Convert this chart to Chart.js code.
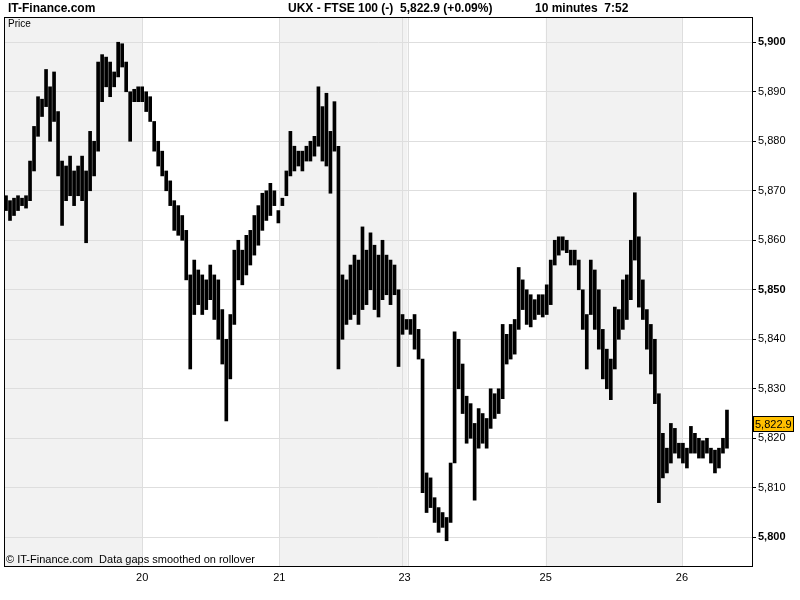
<!DOCTYPE html>
<html>
<head>
<meta charset="utf-8">
<script src="https://cdn.jsdelivr.net/npm/chart.js@4/dist/chart.umd.min.js"></script>
<style>
  html, body { margin: 0; padding: 0; background: #fff; }
</style>
</head>
<body>
<canvas id="priceChart" width="800" height="600"></canvas>
<script>
// 10 minute bars, FTSE 100 (low / high of each bar)
var barLows = [
    5866, 5864, 5865, 5866, 5867, 5866.5, 5868, 5874, 5881, 5885,
    5887, 5880, 5884, 5873, 5863, 5868, 5869, 5867, 5869, 5868,
    5859.5, 5870, 5873, 5878, 5888, 5891, 5889, 5891, 5893, 5895,
    5890, 5880, 5888, 5888,
    5888, 5886, 5884, 5878, 5875, 5873, 5870, 5867, 5862, 5861,
    5860, 5852, 5834, 5845, 5847, 5845, 5846, 5848, 5844, 5840,
    5835, 5823.5, 5832, 5843, 5852, 5851, 5853, 5855, 5857, 5859,
    5862, 5864, 5865, 5867,
    5863.5, 5867, 5869, 5873, 5874, 5875, 5874, 5876, 5876, 5877,
    5879, 5876, 5875, 5869.5, 5878, 5834, 5840, 5843, 5844, 5845,
    5843, 5846, 5847, 5850, 5846, 5844.5, 5848, 5849, 5847, 5849,
    5834.5,
    5841, 5842, 5841, 5838, 5836, 5809, 5805, 5806, 5803, 5801,
    5802, 5799.3, 5803, 5815, 5830, 5825, 5819, 5820, 5807.5, 5818,
    5819, 5818, 5822, 5824, 5825, 5828, 5835, 5836, 5837, 5842,
    5846, 5843, 5842.5, 5844, 5845, 5844.5,
    5845, 5847, 5855, 5857, 5858, 5857.5, 5855, 5855, 5850, 5842,
    5834, 5845, 5842, 5838, 5832, 5830, 5827.8, 5834, 5840, 5842,
    5844, 5848, 5856, 5846.5, 5844, 5838, 5833, 5827, 5807, 5812,
    5813, 5815, 5817, 5816,
    5815, 5814, 5817, 5817, 5816, 5816, 5817, 5815, 5813, 5814,
    5817, 5818
];
var barHighs = [
    5869, 5868, 5868.5, 5869, 5868.5, 5869, 5876, 5883, 5889, 5888.5,
    5894.5, 5891, 5894, 5886, 5876, 5875, 5877, 5874, 5875, 5877,
    5874, 5882, 5880, 5896, 5897.5, 5897, 5896, 5894, 5900, 5899.7,
    5896, 5890, 5890.5, 5891,
    5891, 5890, 5889, 5884, 5880, 5878, 5874, 5872, 5868, 5867,
    5865, 5862, 5853, 5856, 5854, 5853, 5852, 5855, 5853, 5852,
    5846, 5840, 5845, 5858, 5860, 5858, 5861, 5862, 5865, 5867,
    5869.5, 5870, 5871.5, 5870,
    5866, 5868.5, 5874, 5882, 5879, 5878, 5878, 5879, 5880, 5881,
    5891, 5887, 5889.7, 5882, 5888, 5879, 5853, 5852, 5855, 5857,
    5856, 5862.7, 5858, 5861.5, 5859, 5857, 5860, 5857, 5856, 5855,
    5850,
    5845, 5844, 5844, 5845, 5842, 5836, 5813, 5812, 5808, 5806,
    5805, 5804, 5815, 5841.5, 5840, 5835, 5828.5, 5827, 5823, 5826,
    5825, 5824, 5830, 5829, 5830, 5843, 5841, 5843, 5844, 5854.5,
    5852, 5850, 5849, 5848, 5849, 5849,
    5851, 5856, 5860, 5860.7, 5860.7, 5860, 5858, 5858, 5856, 5850,
    5845, 5856, 5854, 5850, 5842, 5838, 5836, 5846.5, 5846, 5852,
    5853, 5860, 5869.6, 5860.7, 5852, 5846, 5843, 5840, 5829, 5821,
    5818, 5823, 5822, 5819,
    5819, 5818, 5822.4, 5821, 5820, 5819.5, 5820, 5818, 5817.6, 5818,
    5820, 5825.7
];
var lastClose = 5822.9;
var changePct = 0.09;

// day separators, shaded days and day labels (in bar numbers)
var dayLines = [34, 68.25, 98.75, 100.25, 134.75, 168.75];
var dayLabelAt = [34, 68.25, 99.5, 134.75, 168.75];
var dayLabels = ["20", "21", "23", "25", "26"];
var shadedDays = [[-0.25, 34], [68.25, 100.25], [134.75, 168.75]];
var priceTicks = [5800, 5810, 5820, 5830, 5840, 5850, 5860, 5870, 5880, 5890, 5900];

var FONT = "'Liberation Sans', Arial, sans-serif";

var bars = barLows.map(function (lo, i) {
    return { x: i, y: [lo, barHighs[i]] };
});

var decor = {
    id: "decor",
    beforeDraw: function (chart) {
        var ctx = chart.ctx, area = chart.chartArea, xs = chart.scales.x;
        ctx.save();
        ctx.fillStyle = "#ffffff";
        ctx.fillRect(0, 0, chart.width, chart.height);
        ctx.fillStyle = "#f2f2f2";
        shadedDays.forEach(function (d) {
            var x0 = xs.getPixelForValue(d[0]);
            var x1 = xs.getPixelForValue(d[1]);
            ctx.fillRect(x0, area.top, x1 - x0, area.bottom - area.top);
        });
        ctx.restore();
    },
    beforeDatasetsDraw: function (chart) {
        var ctx = chart.ctx, area = chart.chartArea, xs = chart.scales.x;
        ctx.save();
        ctx.strokeStyle = "#dedede";
        ctx.lineWidth = 1;
        dayLines.forEach(function (d) {
            var px = Math.round(xs.getPixelForValue(d)) + 0.5;
            ctx.beginPath();
            ctx.moveTo(px, area.top);
            ctx.lineTo(px, area.bottom);
            ctx.stroke();
        });
        ctx.restore();
    },
    afterDraw: function (chart) {
        var ctx = chart.ctx, area = chart.chartArea, xs = chart.scales.x, ys = chart.scales.y;
        ctx.save();

        // frame
        ctx.strokeStyle = "#000";
        ctx.lineWidth = 1;
        ctx.strokeRect(Math.round(area.left) - 0.5, Math.round(area.top) - 0.5,
            Math.round(area.right - area.left) + 1, Math.round(area.bottom - area.top) + 1);

        // header
        ctx.fillStyle = "#000";
        ctx.textBaseline = "middle";
        ctx.textAlign = "left";
        ctx.font = "bold 12px " + FONT;
        ctx.fillText("IT-Finance.com", 8, 9);
        ctx.fillText("UKX - FTSE 100 (-)", 288, 9);
        ctx.fillText(lastClose.toLocaleString("en-US", { minimumFractionDigits: 1 }) +
            " (+" + changePct.toFixed(2) + "%)", 400, 9);
        ctx.fillText("10 minutes  7:52", 535, 9);

        ctx.font = "10px " + FONT;
        ctx.fillText("Price", 8, 24);

        ctx.font = "11px " + FONT;
        ctx.fillText("\u00A9 IT-Finance.com  Data gaps smoothed on rollover", 6, 560);

        // day labels
        ctx.textAlign = "center";
        dayLabels.forEach(function (lab, i) {
            ctx.fillText(lab, xs.getPixelForValue(dayLabelAt[i]), 578);
        });

        // last price tag
        var py = ys.getPixelForValue(lastClose);
        ctx.fillStyle = "#ffc000";
        ctx.fillRect(753.5, Math.round(py) - 7.5, 40, 15);
        ctx.strokeStyle = "#000";
        ctx.strokeRect(753.5, Math.round(py) - 7.5, 40, 15);
        ctx.fillStyle = "#000";
        ctx.textAlign = "left";
        ctx.fillText(lastClose.toLocaleString("en-US", { minimumFractionDigits: 1 }), 755, Math.round(py) + 0.5);

        ctx.restore();
    }
};

var ctx = document.getElementById("priceChart").getContext("2d");
var priceChart = new Chart(ctx, {
    type: "bar",
    data: {
        datasets: [{
            data: bars,
            backgroundColor: "#000",
            borderWidth: 0,
            barThickness: 3,
            grouped: false
        }]
    },
    options: {
        responsive: false,
        animation: false,
        layout: { padding: { left: 5, top: 18, right: 0, bottom: 34 } },
        plugins: {
            legend: { display: false },
            tooltip: { enabled: false }
        },
        scales: {
            x: {
                type: "linear",
                display: false,
                offset: false,
                bounds: "data",
                min: -0.25,
                max: 186.25
            },
            y: {
                position: "right",
                min: 5794.2,
                max: 5904.9,
                afterBuildTicks: function (scale) {
                    scale.ticks = priceTicks.map(function (v) { return { value: v }; });
                },
                afterFit: function (scale) {
                    scale.width = 48;
                },
                grid: {
                    color: "#dedede",
                    tickColor: "#000",
                    tickLength: 4
                },
                border: { display: true, color: "#000" },
                ticks: {
                    padding: 2,
                    color: "#000",
                    font: function (c) {
                        var v = c.tick ? c.tick.value : 0;
                        return { family: FONT, size: 11, weight: v % 50 === 0 ? "bold" : "normal" };
                    },
                    callback: function (v) { return v.toLocaleString("en-US"); }
                }
            }
        }
    },
    plugins: [decor]
});
</script>
</body>
</html>
